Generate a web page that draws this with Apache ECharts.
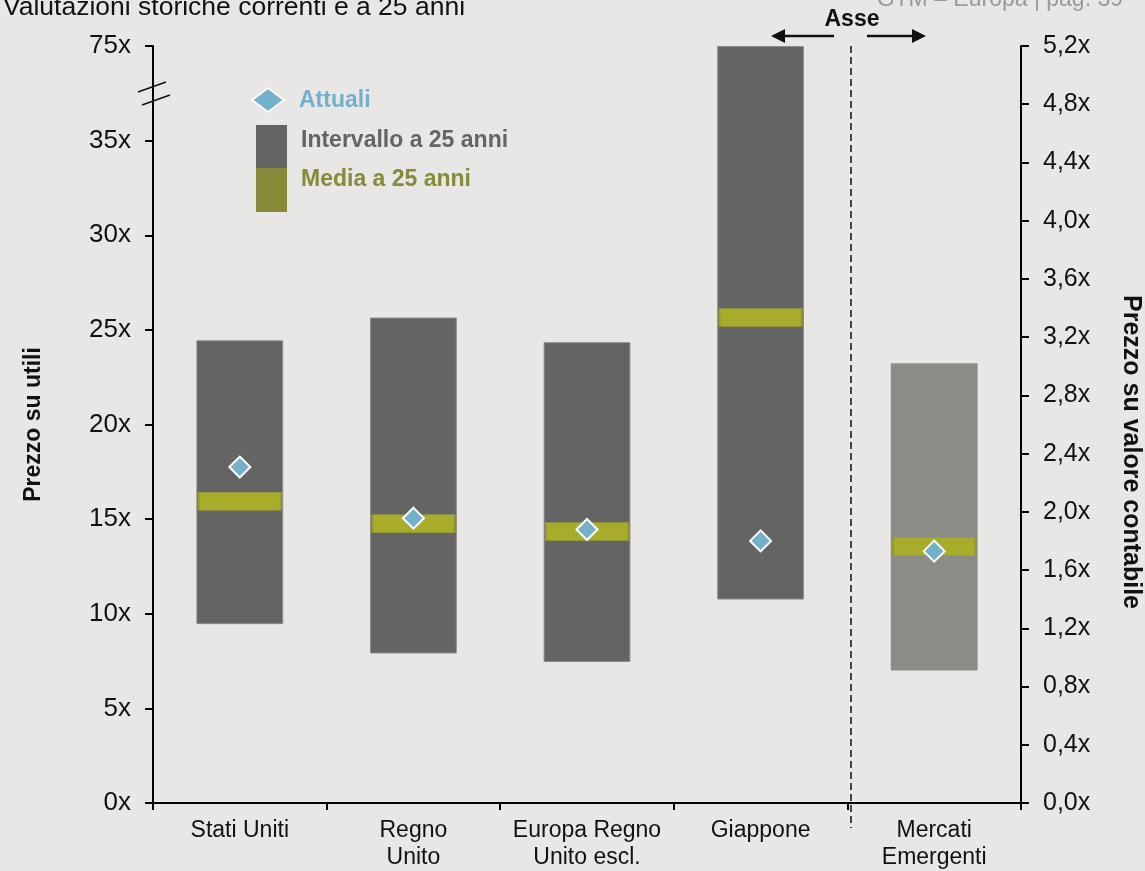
<!DOCTYPE html>
<html>
<head>
<meta charset="utf-8">
<script src="https://cdn.jsdelivr.net/npm/echarts@6/dist/echarts.min.js"></script>
<style>
html,body{margin:0;padding:0;background:#e8e7e5;}
#chart{width:1145px;height:871px;}
</style>
</head>
<body>
<div id="chart"></div>
<script>
// ---- data ----
const categories = ['Stati Uniti', 'Regno\nUnito', 'Europa Regno\nUnito escl.', 'Giappone', 'Mercati\nEmergenti'];
const rangeLow  = [9.45, 7.9, 7.45, 10.75, 0.91];   // 25y min
const rangeHigh = [24.45, 25.65, 24.35, 75, 3.02];  // 25y max
const avg25     = [15.95, 14.75, 14.35, 25.65, 1.76]; // 25y average
const current   = [17.75, 15.05, 14.45, 13.85, 1.73]; // current
const useRightAxis = [false, false, false, false, true]; // EM uses P/B axis
const leftTickLabels  = ['0x', '5x', '10x', '15x', '20x', '25x', '30x', '35x', '75x'];
const rightTickLabels = ['0,0x', '0,4x', '0,8x', '1,2x', '1,6x', '2,0x', '2,4x', '2,8x', '3,2x', '3,6x', '4,0x', '4,4x', '4,8x', '5,2x'];
const breakFrom = 35, breakTo = 75; // left axis break: 35x .. 75x compressed to one step

// ---- helpers ----
const FONT = "'Liberation Sans', Arial, sans-serif";
const LEFT_STEP = 5;
function toLeft(v) {
  return v <= breakFrom ? v : breakFrom + (v - breakFrom) / (breakTo - breakFrom) * LEFT_STEP;
}
function pick(arr, right, fn) {
  return arr.map((v, i) => (useRightAxis[i] === right ? fn(v, i) : '-'));
}
function pts(arr, right, fn) {
  const out = [];
  arr.forEach((v, i) => { if (useRightAxis[i] === right) out.push([i, fn(v)]); });
  return out;
}
const idL = v => toLeft(v), idR = v => v;

const chart = echarts.init(document.getElementById('chart'), null, {renderer: 'canvas'});

const darkBar = {color: '#646464', borderColor: '#8d8d8d', borderWidth: 1};
const lightBar = {color: '#8c8c87', borderWidth: 0};
const meanStyle = {color: '#a8ac2b', borderColor: '#979b32', borderWidth: 1, opacity: 1};
const diamondStyle = {color: '#73b1cb', borderColor: '#ffffff', borderWidth: 2, opacity: 1};
const axisStroke = {color: '#000', width: 2};

const option = {
  backgroundColor: '#e8e7e5',
  animation: false,
  textStyle: {fontFamily: FONT},
  grid: {left: 153, right: 124, top: 46, bottom: 68},
  xAxis: {
    type: 'category',
    data: categories,
    axisLine: {lineStyle: axisStroke},
    axisTick: {show: true, length: 7, lineStyle: axisStroke},
    axisLabel: {interval: 0, fontSize: 23, color: '#111', lineHeight: 27, margin: 14, fontFamily: FONT},
    splitLine: {show: false}
  },
  yAxis: [
    {
      type: 'value', min: 0, max: toLeft(breakTo), interval: LEFT_STEP,
      axisLine: {show: true, lineStyle: axisStroke},
      axisTick: {show: true, length: 8, lineStyle: axisStroke},
      axisLabel: {fontSize: 26, color: '#111', margin: 22, fontFamily: FONT,
        formatter: v => leftTickLabels[Math.round(v / LEFT_STEP)]},
      splitLine: {show: false},
      name: 'Prezzo su utili', nameLocation: 'middle', nameGap: 108,
      nameTextStyle: {fontSize: 23, fontWeight: 'bold', color: '#111', fontFamily: FONT}
    },
    {
      type: 'value', position: 'right', min: 0, max: 5.2, interval: 0.4,
      axisLine: {show: true, lineStyle: axisStroke},
      axisTick: {show: true, length: 8, lineStyle: axisStroke},
      axisLabel: {fontSize: 25, color: '#111', margin: 22, fontFamily: FONT,
        formatter: v => rightTickLabels[Math.round(v / 0.4)]},
      splitLine: {show: false}
    }
  ],
  series: [
    {type: 'bar', stack: 'L', yAxisIndex: 0, barWidth: '50%', barGap: '-100%', silent: true,
      itemStyle: {color: 'transparent'}, data: pick(rangeLow, false, v => toLeft(v))},
    {type: 'bar', stack: 'L', yAxisIndex: 0, barWidth: '50%', barGap: '-100%',
      itemStyle: darkBar, data: pick(rangeHigh, false, (v, i) => toLeft(v) - toLeft(rangeLow[i]))},
    {type: 'bar', stack: 'R', yAxisIndex: 1, barWidth: '50%', barGap: '-100%', silent: true,
      itemStyle: {color: 'transparent'}, data: pick(rangeLow, true, v => v)},
    {type: 'bar', stack: 'R', yAxisIndex: 1, barWidth: '50%', barGap: '-100%',
      itemStyle: lightBar, data: pick(rangeHigh, true, (v, i) => v - rangeLow[i])},
    {type: 'scatter', yAxisIndex: 0, symbol: 'rect', symbolSize: [82, 18], z: 3,
      itemStyle: meanStyle, data: pts(avg25, false, idL)},
    {type: 'scatter', yAxisIndex: 1, symbol: 'rect', symbolSize: [82, 18], z: 3,
      itemStyle: meanStyle, data: pts(avg25, true, idR)},
    {type: 'scatter', yAxisIndex: 0, symbol: 'diamond', symbolSize: 21, z: 4,
      itemStyle: diamondStyle, data: pts(current, false, idL)},
    {type: 'scatter', yAxisIndex: 1, symbol: 'diamond', symbolSize: 21, z: 4,
      itemStyle: diamondStyle, data: pts(current, true, idR)}
  ],
  graphic: [
    {type: 'text', left: 3, top: -6, style: {text: 'Valutazioni storiche correnti e a 25 anni', font: "26.5px " + FONT, fill: '#111'}},
    {type: 'text', right: 22, top: -12, style: {text: 'GTM – Europa | pag. 39', font: "23px " + FONT, fill: '#9a9a9a'}},
    {type: 'text', x: 852, y: 20, style: {text: 'Asse', font: "bold 23px " + FONT, fill: '#111', align: 'center', verticalAlign: 'middle'}, z: 10},
    // arrows
    {type: 'line', shape: {x1: 834, y1: 36, x2: 780, y2: 36}, style: {stroke: '#111', lineWidth: 2.5}, z: 10},
    {type: 'polygon', shape: {points: [[771, 36], [785, 29], [785, 43]]}, style: {fill: '#111'}, z: 10},
    {type: 'line', shape: {x1: 867, y1: 36, x2: 916, y2: 36}, style: {stroke: '#111', lineWidth: 2.5}, z: 10},
    {type: 'polygon', shape: {points: [[926, 36], [912, 29], [912, 43]]}, style: {fill: '#111'}, z: 10},
    // dashed separator
    {type: 'line', shape: {x1: 851, y1: 46, x2: 851, y2: 828}, style: {stroke: '#111', lineWidth: 1.5, lineDash: [7, 4]}, z: 10},
    // axis break marks
    {type: 'line', shape: {x1: 138, y1: 92, x2: 166, y2: 82}, style: {stroke: '#111', lineWidth: 1.5}, z: 10},
    {type: 'line', shape: {x1: 142, y1: 105, x2: 170, y2: 95}, style: {stroke: '#111', lineWidth: 1.5}, z: 10},
    // legend
    {type: 'polygon', shape: {points: [[252, 100], [268, 88], [284, 100], [268, 112]]}, style: {fill: '#73b1cb', stroke: '#fff', lineWidth: 2}, z: 10},
    {type: 'text', x: 299, y: 101, style: {text: 'Attuali', font: "bold 23px " + FONT, fill: '#72b0cc', verticalAlign: 'middle'}, z: 10},
    {type: 'rect', shape: {x: 256, y: 125, width: 31, height: 43}, style: {fill: '#646464'}, z: 10},
    {type: 'rect', shape: {x: 256, y: 168, width: 31, height: 44}, style: {fill: '#868a39'}, z: 10},
    {type: 'text', x: 301, y: 141, style: {text: 'Intervallo a 25 anni', font: "bold 23px " + FONT, fill: '#646464', verticalAlign: 'middle'}, z: 10},
    {type: 'text', x: 301, y: 180, style: {text: 'Media a 25 anni', font: "bold 23px " + FONT, fill: '#868a39', verticalAlign: 'middle'}, z: 10},
    // right axis name
    {type: 'text', x: 1131, y: 452, rotation: -Math.PI / 2, style: {text: 'Prezzo su valore contabile', font: "bold 25px " + FONT, fill: '#111', align: 'center', verticalAlign: 'middle'}, z: 10}
  ]
};
chart.setOption(option);
</script>
</body>
</html>
